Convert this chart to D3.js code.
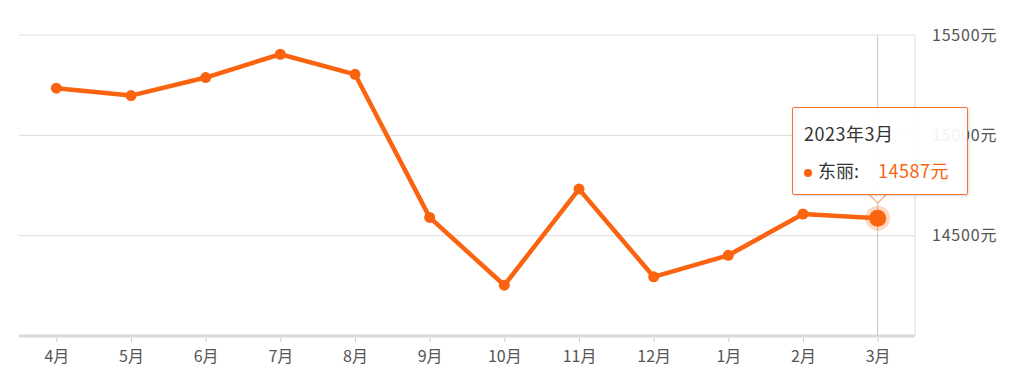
<!DOCTYPE html>
<html>
<head>
<meta charset="utf-8">
<style>
  body { margin: 0; background: #fff; }
  svg { display: block; font-family: "Noto Sans CJK SC", "Noto Sans", sans-serif; }
  .tip {
    position: absolute;
    left: 792px; top: 107px;
    width: 176px; height: 88px;
    box-sizing: border-box;
    border: 1px solid #f7722a;
    border-radius: 2px;
    background: rgba(255,255,255,0.92);
    box-shadow: 1px 1px 3px rgba(0,0,0,0.15);
    font-family: "Noto Sans CJK SC", sans-serif;
    font-size: 18px;
    line-height: 20px;
    color: #333;
  }
</style>
</head>
<body>
<script src="https://d3js.org/d3.v7.min.js"></script>
<script>
var months = ["4月", "5月", "6月", "7月", "8月", "9月", "10月", "11月", "12月", "1月", "2月", "3月"];
var prices = [15235, 15198, 15288, 15404, 15304, 14591, 14253, 14732, 14295, 14402, 14608, 14587];
var yTicks = [14500, 15000, 15500];
var seriesName = "东丽";
var tipTitle = "2023年3月";

var width = 1028, height = 389;
var plotLeft = 19, plotRight = 915, plotTop = 35, plotBottom = 336;
var orange = "#fa6410";

var svg = d3.select("body").append("svg")
    .attr("width", width)
    .attr("height", height);

var x = d3.scalePoint().domain(months).range([plotLeft, plotRight]).padding(0.5);
var y = d3.scaleLinear().domain([14000, 15500]).range([plotBottom, plotTop]);

// grid lines
svg.append("g").selectAll("line")
    .data(yTicks)
    .enter().append("line")
    .attr("x1", plotLeft).attr("x2", plotRight)
    .attr("y1", function(d) { return y(d); })
    .attr("y2", function(d) { return y(d); })
    .attr("stroke", "#dcdcdc")
    .attr("stroke-width", 1);

// right border
svg.append("line")
    .attr("x1", plotRight).attr("x2", plotRight)
    .attr("y1", plotTop).attr("y2", plotBottom)
    .attr("stroke", "#dcdcdc");

// y labels on the right
svg.append("g").selectAll("text")
    .data(yTicks)
    .enter().append("text")
    .attr("x", 932)
    .attr("y", function(d) { return y(d); })
    .attr("dy", "0.35em")
    .attr("font-size", 16)
    .attr("letter-spacing", 0.8)
    .attr("fill", "#555")
    .text(function(d) { return d + "元"; });

// x axis
var xAxis = svg.append("g")
    .attr("transform", "translate(0," + plotBottom + ")")
    .call(d3.axisBottom(x).tickSize(6).tickPadding(9));
xAxis.select(".domain").remove();
xAxis.selectAll(".tick line").attr("stroke", "#ccc");
xAxis.selectAll(".tick text")
    .attr("font-size", 16)
    .attr("font-family", "Noto Sans CJK SC")
    .attr("fill", "#555");
svg.append("line")
    .attr("x1", plotLeft).attr("x2", plotRight)
    .attr("y1", plotBottom).attr("y2", plotBottom)
    .attr("stroke", "#dadada")
    .attr("stroke-width", 3);

// crosshair on last point
var lastM = months[months.length - 1];
svg.append("line")
    .attr("x1", x(lastM)).attr("x2", x(lastM))
    .attr("y1", plotTop).attr("y2", plotBottom)
    .attr("stroke", "#c4c4c4");

// line
var line = d3.line()
    .x(function(d, i) { return x(months[i]); })
    .y(function(d) { return y(d); });

svg.append("path")
    .datum(prices)
    .attr("fill", "none")
    .attr("stroke", orange)
    .attr("stroke-width", 4.5)
    .attr("stroke-linejoin", "round")
    .attr("d", line);

svg.append("g").selectAll("circle")
    .data(prices)
    .enter().append("circle")
    .attr("cx", function(d, i) { return x(months[i]); })
    .attr("cy", function(d) { return y(d); })
    .attr("r", 5.5)
    .attr("fill", orange);

// highlighted point
var lastV = prices[prices.length - 1];
svg.append("circle")
    .attr("cx", x(lastM)).attr("cy", y(lastV))
    .attr("r", 12.5)
    .attr("fill", orange)
    .attr("opacity", 0.25);
svg.append("circle")
    .attr("cx", x(lastM)).attr("cy", y(lastV))
    .attr("r", 8.5)
    .attr("fill", orange);

// tooltip
var tip = d3.select("body").append("div").attr("class", "tip");
tip.append("div")
    .style("position", "absolute").style("left", "11px").style("top", "15px")
    .style("letter-spacing", "0.5px")
    .text(tipTitle);
var row = tip.append("div")
    .style("position", "absolute").style("left", "11px").style("top", "52px")
    .style("white-space", "nowrap");
row.append("span")
    .style("display", "inline-block").style("width", "8px").style("height", "8px")
    .style("border-radius", "50%").style("background", orange)
    .style("margin-right", "6px").style("vertical-align", "middle");
row.append("span").text(seriesName + ":");
row.append("span")
    .style("color", orange).style("margin-left", "19px")
    .style("letter-spacing", "0.5px")
    .text(lastV + "元");

// pointer arrow under tooltip
var ax = x(lastM);
svg.append("path")
    .attr("d", "M" + (ax - 9) + ",194 L" + ax + ",203 L" + (ax + 9) + ",194 Z")
    .attr("fill", "#fff")
    .attr("stroke", "#f7722a");
svg.append("rect")
    .attr("x", ax - 10).attr("y", 192).attr("width", 20).attr("height", 2.5)
    .attr("fill", "#fff");
</script>
</body>
</html>
